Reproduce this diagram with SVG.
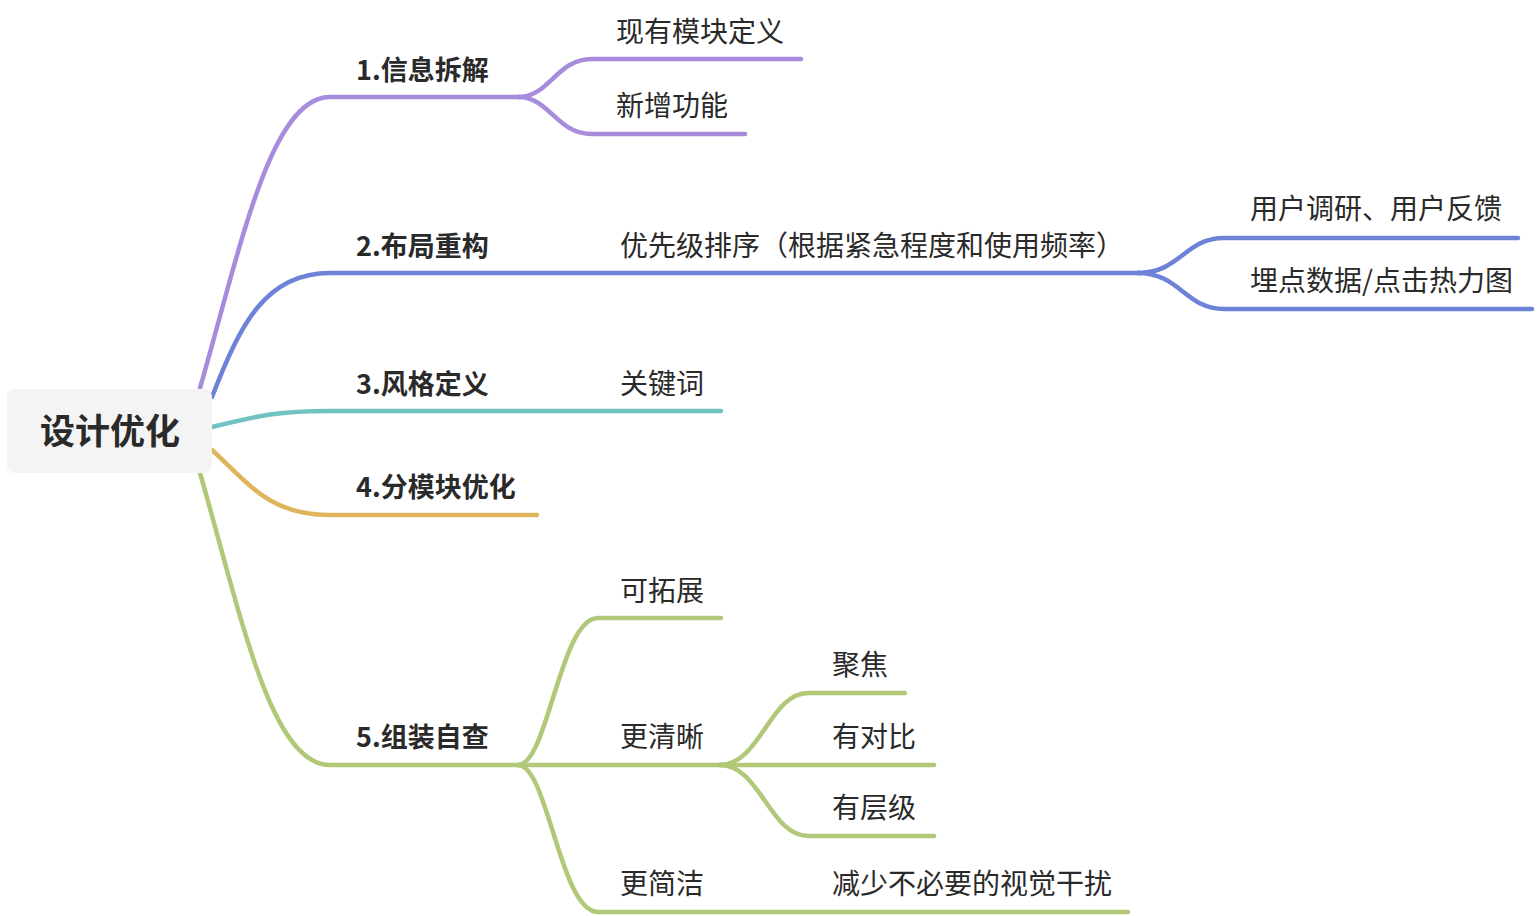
<svg xmlns="http://www.w3.org/2000/svg" width="1538" height="916" viewBox="0 0 1538 916">
<style>
.c{fill:none;stroke-width:4.5;stroke-linecap:round;stroke-linejoin:round}
.p{stroke:#a78bdc}.b{stroke:#6e82d8}.t{stroke:#70c3c1}.o{stroke:#deb45c}.g{stroke:#b2c879}
text{font-family:"Noto Sans CJK SC","Liberation Sans",sans-serif;fill:#2a2a2a}
.l1{font-size:27px;font-weight:bold}
.l2{font-size:28px}
.root{font-size:35px;font-weight:bold}
</style>
<rect width="1538" height="916" fill="#ffffff"/>
<g id="connectors">
<path class="c p" d="M200,388 C240,250 270,97 330,97 L520,97"/>
<path class="c p" d="M518,97 C550,97 556,59 592,59 L801,59"/>
<path class="c p" d="M518,97 C550,97 556,134 592,134 L745,134"/>
<path class="c b" d="M212,397 C240,325 265,273 330,273 L1140,273"/>
<path class="c b" d="M1138,273 C1180,273 1185,238 1224,238 L1518,238"/>
<path class="c b" d="M1138,273 C1180,273 1185,309 1224,309 L1532,309"/>
<path class="c t" d="M212,427 C260,415 280,411 330,411 L721,411"/>
<path class="c o" d="M212,450 C250,485 270,515 330,515 L537,515"/>
<path class="c g" d="M200,473 C240,611 270,765 330,765 L520,765"/>
<path class="c g" d="M518,765 C548,765 560,618 598,618 L721,618"/>
<path class="c g" d="M518,765 L722,765"/>
<path class="c g" d="M518,765 C548,765 560,912 598,912 L1128,912"/>
<path class="c g" d="M720,765 C760,765 770,693 808,693 L905,693"/>
<path class="c g" d="M720,765 L934,765"/>
<path class="c g" d="M720,765 C760,765 770,836 808,836 L934,836"/>
</g>
<g id="root"><rect x="7" y="389" width="205" height="84" rx="8" fill="#f4f4f4"/><text class="root" x="40" y="444">设计优化</text></g>
<g id="n1"><text class="l1" x="356" y="80">1.信息拆解</text></g>
<g id="n1a"><text class="l2" x="616" y="42">现有模块定义</text></g>
<g id="n1b"><text class="l2" x="616" y="116">新增功能</text></g>
<g id="n2"><text class="l1" x="356" y="256">2.布局重构</text></g>
<g id="n2a"><text class="l2" x="620" y="256">优先级排序（根据紧急程度和使用频率）</text></g>
<g id="n2a1"><text class="l2" x="1250" y="219">用户调研、用户反馈</text></g>
<g id="n2a2"><text class="l2" x="1250" y="291">埋点数据/点击热力图</text></g>
<g id="n3"><text class="l1" x="356" y="394">3.风格定义</text></g>
<g id="n3a"><text class="l2" x="620" y="394">关键词</text></g>
<g id="n4"><text class="l1" x="356" y="497">4.分模块优化</text></g>
<g id="n5"><text class="l1" x="356" y="747">5.组装自查</text></g>
<g id="n5a"><text class="l2" x="620" y="601">可拓展</text></g>
<g id="n5b"><text class="l2" x="620" y="747">更清晰</text></g>
<g id="n5b1"><text class="l2" x="832" y="675">聚焦</text></g>
<g id="n5b2"><text class="l2" x="832" y="747">有对比</text></g>
<g id="n5b3"><text class="l2" x="832" y="818">有层级</text></g>
<g id="n5c"><text class="l2" x="620" y="894">更简洁</text></g>
<g id="n5c1"><text class="l2" x="832" y="894">减少不必要的视觉干扰</text></g>
</svg>
